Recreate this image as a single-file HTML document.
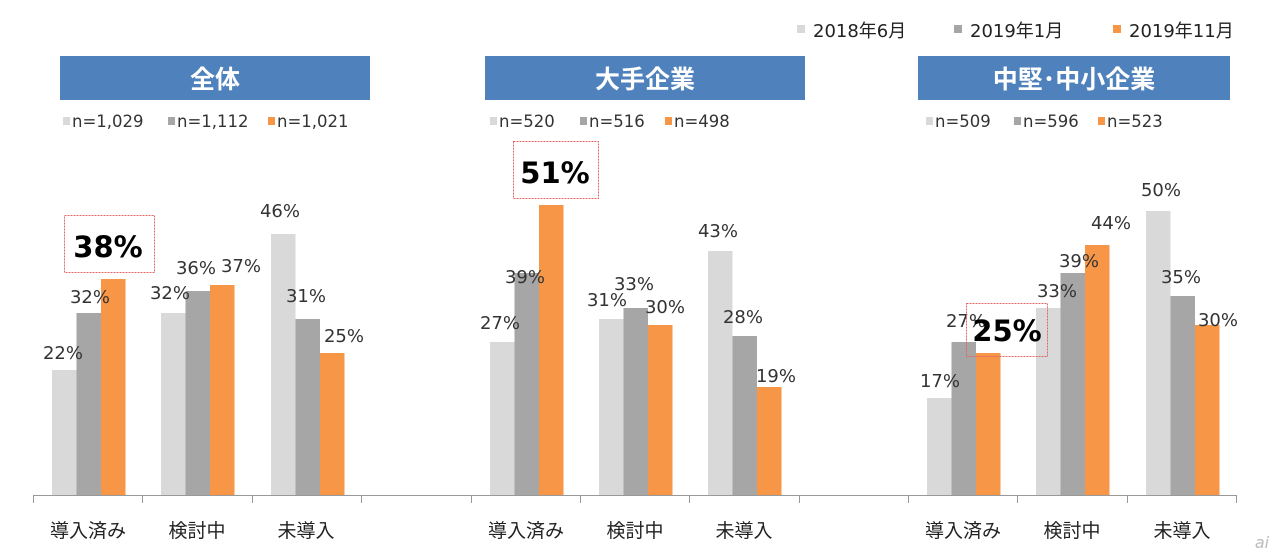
<!DOCTYPE html>
<html><head><meta charset="utf-8"><style>
body{margin:0;background:#fff;}
svg{display:block;font-family:"DejaVu Sans","Noto Sans CJK JP",sans-serif;}
.l{fill:#d9d9d9}.d{fill:#a6a6a6}.o{fill:#f79646}
.v{font-size:18px;fill:#333;text-anchor:middle}
.n{font-size:16.5px;fill:#333}
.g{font-size:18px;fill:#222}
.t{font-size:25px;font-weight:bold;fill:#fff;text-anchor:middle;font-family:"Noto Sans CJK JP",sans-serif}
.c{font-size:19px;fill:#222;text-anchor:middle;font-family:"Noto Sans CJK JP",sans-serif}
.b{font-size:29px;font-weight:bold;fill:#000;text-anchor:middle}
</style></head><body>
<svg width="1280" height="556" viewBox="0 0 1280 556">
<!-- top legend -->
<rect x="797" y="25" width="8" height="8" class="l"/><text x="813" y="37" class="g">2018年6月</text>
<rect x="954" y="25" width="8" height="8" class="d"/><text x="970" y="37" class="g">2019年1月</text>
<rect x="1113" y="25" width="8" height="8" class="o"/><text x="1129" y="37" class="g">2019年11月</text>
<!-- banners -->
<rect x="60" y="56" width="310" height="44" fill="#4f81bd"/><text x="215" y="88" class="t">全体</text>
<rect x="485" y="56" width="320" height="44" fill="#4f81bd"/><text x="645" y="88" class="t">大手企業</text>
<rect x="918" y="56" width="312" height="44" fill="#4f81bd"/><text x="1074" y="88" class="t">中堅･中小企業</text>
<!-- n legends -->
<rect x="63" y="117" width="7" height="8" class="l"/><text x="72" y="127" class="n">n=1,029</text>
<rect x="168" y="117" width="7" height="8" class="d"/><text x="177" y="127" class="n">n=1,112</text>
<rect x="268" y="117" width="7" height="8" class="o"/><text x="277" y="127" class="n">n=1,021</text>
<rect x="490" y="117" width="7" height="8" class="l"/><text x="499" y="127" class="n">n=520</text>
<rect x="580" y="117" width="7" height="8" class="d"/><text x="589" y="127" class="n">n=516</text>
<rect x="665" y="117" width="7" height="8" class="o"/><text x="674" y="127" class="n">n=498</text>
<rect x="926" y="117" width="7" height="8" class="l"/><text x="935" y="127" class="n">n=509</text>
<rect x="1014" y="117" width="7" height="8" class="d"/><text x="1023" y="127" class="n">n=596</text>
<rect x="1098" y="117" width="7" height="8" class="o"/><text x="1107" y="127" class="n">n=523</text>
<!-- bars G1 -->
<rect x="52" y="370" width="24.5" height="125" class="l"/><rect x="76.5" y="313" width="24.5" height="182" class="d"/><rect x="101" y="279" width="24.5" height="216" class="o"/>
<rect x="161" y="313" width="24.5" height="182" class="l"/><rect x="185.5" y="291" width="24.5" height="204" class="d"/><rect x="210" y="285" width="24.5" height="210" class="o"/>
<rect x="271" y="234" width="24.5" height="261" class="l"/><rect x="295.5" y="319" width="24.5" height="176" class="d"/><rect x="320" y="353" width="24.5" height="142" class="o"/>
<!-- G2 -->
<rect x="490" y="342" width="24.5" height="153" class="l"/><rect x="514.5" y="273" width="24.5" height="222" class="d"/><rect x="539" y="205" width="24.5" height="290" class="o"/>
<rect x="599" y="319" width="24.5" height="176" class="l"/><rect x="623.5" y="308" width="24.5" height="187" class="d"/><rect x="648" y="325" width="24.5" height="170" class="o"/>
<rect x="708" y="251" width="24.5" height="244" class="l"/><rect x="732.5" y="336" width="24.5" height="159" class="d"/><rect x="757" y="387" width="24.5" height="108" class="o"/>
<!-- G3 -->
<rect x="927" y="398" width="24.5" height="97" class="l"/><rect x="951.5" y="342" width="24.5" height="153" class="d"/><rect x="976" y="353" width="24.5" height="142" class="o"/>
<rect x="1036" y="308" width="24.5" height="187" class="l"/><rect x="1060.5" y="273" width="24.5" height="222" class="d"/><rect x="1085" y="245" width="24.5" height="250" class="o"/>
<rect x="1146" y="211" width="24.5" height="284" class="l"/><rect x="1170.5" y="296" width="24.5" height="199" class="d"/><rect x="1195" y="325" width="24.5" height="170" class="o"/>
<!-- axis -->
<line x1="33" y1="495.5" x2="1236" y2="495.5" stroke="#999" stroke-width="1"/>
<g stroke="#999" stroke-width="1">
<line x1="33.5" y1="495" x2="33.5" y2="503"/><line x1="142.5" y1="495" x2="142.5" y2="503"/><line x1="252.5" y1="495" x2="252.5" y2="503"/><line x1="361.5" y1="495" x2="361.5" y2="503"/>
<line x1="471.5" y1="495" x2="471.5" y2="503"/><line x1="580.5" y1="495" x2="580.5" y2="503"/><line x1="689.5" y1="495" x2="689.5" y2="503"/><line x1="799.5" y1="495" x2="799.5" y2="503"/>
<line x1="908.5" y1="495" x2="908.5" y2="503"/><line x1="1017.5" y1="495" x2="1017.5" y2="503"/><line x1="1127.5" y1="495" x2="1127.5" y2="503"/><line x1="1236.5" y1="495" x2="1236.5" y2="503"/>
</g>
<!-- category labels -->
<text x="88" y="537" class="c">導入済み</text><text x="197" y="537" class="c">検討中</text><text x="306" y="537" class="c">未導入</text>
<text x="526" y="537" class="c">導入済み</text><text x="635" y="537" class="c">検討中</text><text x="744" y="537" class="c">未導入</text>
<text x="963" y="537" class="c">導入済み</text><text x="1072" y="537" class="c">検討中</text><text x="1182" y="537" class="c">未導入</text>
<!-- value labels -->
<text x="63" y="359" class="v">22%</text><text x="90" y="303" class="v">32%</text>
<text x="170" y="299" class="v">32%</text><text x="196" y="274" class="v">36%</text><text x="241" y="272" class="v">37%</text>
<text x="280" y="217" class="v">46%</text><text x="306" y="302" class="v">31%</text><text x="344" y="342" class="v">25%</text>
<text x="500" y="329" class="v">27%</text><text x="525" y="283" class="v">39%</text>
<text x="607" y="306" class="v">31%</text><text x="634" y="290" class="v">33%</text><text x="665" y="313" class="v">30%</text>
<text x="718" y="237" class="v">43%</text><text x="743" y="323" class="v">28%</text><text x="776" y="382" class="v">19%</text>
<text x="940" y="387" class="v">17%</text><text x="966" y="327" class="v">27%</text>
<text x="1057" y="297" class="v">33%</text><text x="1079" y="267" class="v">39%</text><text x="1111" y="229" class="v">44%</text>
<text x="1161" y="196" class="v">50%</text><text x="1181" y="283" class="v">35%</text><text x="1218" y="326" class="v">30%</text>
<!-- boxed labels -->
<rect x="64.5" y="215.5" width="90" height="57" fill="#fff" stroke="#e06666" stroke-width="1" stroke-dasharray="2,1"/><text x="108" y="257" class="b">38%</text>
<rect x="513.5" y="141.5" width="85" height="57" fill="#fff" stroke="#e06666" stroke-width="1" stroke-dasharray="2,1"/><text x="555" y="183" class="b">51%</text>
<rect x="966.5" y="303.5" width="81" height="53" fill="none" stroke="#e06666" stroke-width="1" stroke-dasharray="2,1"/><text x="1007" y="341" class="b">25%</text>
<text x="1262" y="548" font-size="16" font-style="italic" fill="#bbb" text-anchor="middle">ai</text>
</svg>
</body></html>
